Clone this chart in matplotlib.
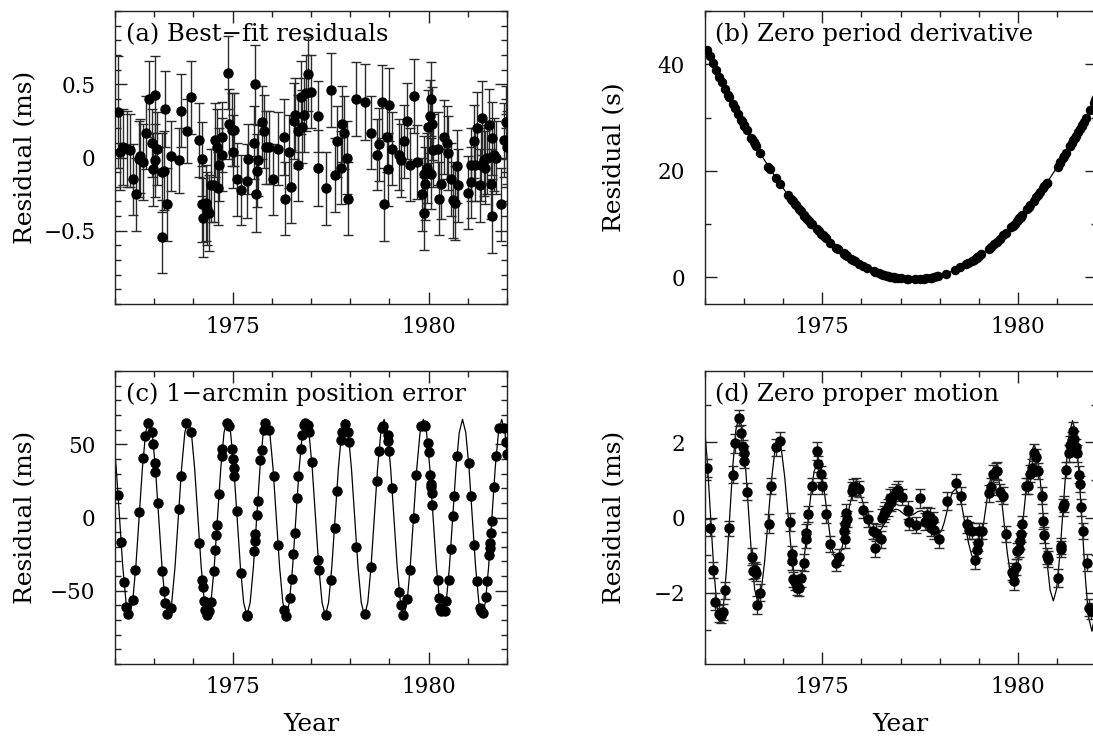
import numpy as np
import matplotlib
matplotlib.use("Agg")
import matplotlib.pyplot as plt
from matplotlib.ticker import MultipleLocator, FixedLocator, FixedFormatter

plt.rcParams['font.family'] = ['DejaVu Serif']

# ---------------- data ----------------
year_ticks = [1975, 1980]
year_labels = ["1975", "1980"]

# TOA epochs (years) shared by panels (a) and (b)
toa_year = [
    1972.07, 1972.14, 1972.21, 1972.30, 1972.38, 1972.45, 1972.53, 1972.61, 1972.63, 1972.72, 1972.78, 1972.86, 1972.94, 1972.96,
    1973.01, 1973.02, 1973.08, 1973.19, 1973.21, 1973.25, 1973.28, 1973.32, 1973.42, 1973.63, 1973.68, 1973.83, 1973.93,
    1974.14, 1974.21, 1974.23, 1974.25, 1974.31, 1974.34, 1974.41, 1974.45, 1974.53, 1974.55, 1974.59, 1974.62, 1974.66, 1974.72, 1974.74, 1974.87, 1974.91, 1974.98,
    1975.02, 1975.04, 1975.10, 1975.21, 1975.36, 1975.40, 1975.55, 1975.57, 1975.60, 1975.61, 1975.64, 1975.74, 1975.80, 1975.85, 1975.94,
    1976.04, 1976.15, 1976.32, 1976.34, 1976.45, 1976.49, 1976.56, 1976.59, 1976.66, 1976.68, 1976.74, 1976.78, 1976.83, 1976.87, 1976.93,
    1977.00, 1977.17, 1977.19, 1977.38, 1977.50, 1977.60, 1977.66, 1977.77, 1977.79, 1977.85, 1977.93, 1977.95,
    1978.15, 1978.39, 1978.53, 1978.68, 1978.73, 1978.82, 1978.87, 1978.94, 1978.96,
    1979.00, 1979.06, 1979.25, 1979.30, 1979.38, 1979.46, 1979.53, 1979.62, 1979.70, 1979.82, 1979.87, 1979.89, 1979.91, 1979.97, 1979.99,
    1980.03, 1980.05, 1980.07, 1980.08, 1980.10, 1980.23, 1980.27, 1980.31, 1980.40, 1980.46, 1980.50, 1980.57, 1980.63, 1980.67, 1980.73, 1980.74,
    1981.01, 1981.07, 1981.08, 1981.15, 1981.18, 1981.23, 1981.32, 1981.33, 1981.37, 1981.41, 1981.44, 1981.48, 1981.53, 1981.58, 1981.62, 1981.63, 1981.67, 1981.73, 1981.84, 1981.93, 1981.97, 1981.99,
]

# (a) best-fit residuals (ms) and uncertainties (ms)
resid_a = [
    0.31, 0.04, 0.07, 0.06, 0.05, -0.15, -0.25, -0.01, 0.01, -0.03, 0.17, 0.40, 0.10, -0.08,
    -0.02, 0.43, 0.06, -0.10, -0.54, -0.09, 0.33, -0.32, 0.01, -0.02, 0.32, 0.18, 0.41,
    0.12, -0.32, -0.01, -0.41, -0.31, -0.35, -0.38, -0.19, -0.19, 0.12, 0.07, -0.21, -0.05, 0.14, 0.02, 0.58, 0.23, 0.19,
    0.04, 0.19, -0.15, -0.22, -0.16, -0.01, 0.10, 0.50, -0.25, -0.09, -0.02, 0.24, 0.18, 0.07, 0.07,
    -0.15, 0.06, 0.14, -0.28, 0.04, -0.20, 0.25, 0.29, -0.05, 0.18, 0.41, 0.21, 0.29, 0.44, 0.57,
    0.45, -0.07, 0.28, -0.21, 0.46, -0.12, 0.11, -0.07, 0.23, 0.17, 0.00, -0.28,
    0.40, 0.38, 0.17, 0.02, 0.09, 0.38, -0.32, 0.14, -0.08,
    0.36, 0.06, 0.02, -0.02, 0.11, 0.25, -0.05, 0.42, -0.03, -0.25, -0.11, -0.38, -0.18, -0.07, 0.21,
    0.28, -0.11, 0.40, 0.23, 0.05, 0.06, -0.28, -0.18, 0.14, 0.10, 0.03, -0.15, -0.29, -0.31, -0.06, -0.19,
    -0.24, -0.05, -0.17, 0.11, -0.05, 0.20, -0.19, -0.05, 0.27, -0.02, -0.07, 0.00, 0.22, -0.18, 0.13, -0.40, 0.02, 0.00, -0.32, 0.12, 0.24, 0.07,
]
err_a = [
    0.38, 0.26, 0.26, 0.26, 0.25, 0.24, 0.25, 0.26, 0.25, 0.26, 0.25, 0.26, 0.23, 0.25,
    0.25, 0.26, 0.25, 0.27, 0.25, 0.27, 0.26, 0.25, 0.24, 0.22, 0.25, 0.22, 0.25,
    0.25, 0.26, 0.25, 0.27, 0.26, 0.25, 0.26, 0.25, 0.25, 0.25, 0.26, 0.25, 0.25, 0.24, 0.25, 0.25, 0.24, 0.25,
    0.25, 0.25, 0.25, 0.24, 0.25, 0.24, 0.25, 0.27, 0.26, 0.25, 0.24, 0.25, 0.25, 0.25, 0.25,
    0.24, 0.25, 0.26, 0.25, 0.25, 0.25, 0.26, 0.25, 0.25, 0.25, 0.25, 0.25, 0.25, 0.26, 0.25,
    0.25, 0.26, 0.24, 0.25, 0.25, 0.25, 0.24, 0.25, 0.26, 0.25, 0.25, 0.25,
    0.25, 0.26, 0.25, 0.24, 0.25, 0.25, 0.25, 0.24, 0.25,
    0.25, 0.25, 0.24, 0.25, 0.25, 0.26, 0.25, 0.25, 0.25, 0.25, 0.26, 0.25, 0.25, 0.24, 0.25,
    0.25, 0.24, 0.25, 0.25, 0.25, 0.25, 0.25, 0.24, 0.25, 0.25, 0.25, 0.25, 0.26, 0.25, 0.25, 0.25,
    0.25, 0.25, 0.24, 0.25, 0.25, 0.25, 0.25, 0.25, 0.25, 0.24, 0.25, 0.25, 0.25, 0.24, 0.25, 0.25, 0.25, 0.25, 0.25, 0.25, 0.25, 0.25,
]

# (b) residuals without period derivative (s), same epochs
resid_b = [
    42.6, 41.5, 40.3, 38.9, 37.7, 36.6, 35.4, 34.2, 33.9, 32.6, 31.8, 30.6, 29.5, 29.3,
    28.6, 28.4, 27.6, 26.2, 26.0, 25.4, 25.1, 24.6, 23.3, 20.8, 20.3, 18.6, 17.5,
    15.4, 14.7, 14.5, 14.3, 13.7, 13.5, 12.8, 12.4, 11.7, 11.6, 11.2, 11.0, 10.6, 10.1, 10.0, 9.0, 8.7, 8.1,
    7.9, 7.7, 7.3, 6.5, 5.6, 5.4, 4.5, 4.4, 4.2, 4.2, 4.0, 3.5, 3.2, 3.0, 2.6,
    2.2, 1.7, 1.2, 1.1, 0.8, 0.7, 0.5, 0.4, 0.3, 0.2, 0.1, 0.1, 0.0, -0.1, -0.2,
    -0.2, -0.4, -0.4, -0.4, -0.35, -0.3, -0.2, -0.1, -0.05, 0.0, 0.2, 0.2,
    0.7, 1.4, 1.9, 2.5, 2.7, 3.1, 3.3, 3.7, 3.8,
    4.0, 4.3, 5.4, 5.7, 6.2, 6.7, 7.2, 7.9, 8.4, 9.4, 9.7, 9.9, 10.1, 10.6, 10.7,
    11.1, 11.2, 11.4, 11.5, 11.7, 12.8, 13.2, 13.5, 14.4, 15.0, 15.4, 16.1, 16.7, 17.1, 17.7, 17.8,
    20.8, 21.5, 21.7, 22.5, 22.8, 23.4, 24.6, 24.7, 25.2, 25.7, 26.1, 26.6, 27.2, 27.9, 28.4, 28.6, 29.1, 29.9, 31.5, 32.8, 33.3, 33.6,
]
model_b_year = np.arange(1972.0, 1982.01, 0.25)
model_b = [
    43.75, 39.70, 35.84, 32.18, 28.71, 25.44, 22.36, 19.48, 16.79, 14.30, 12.01, 9.90, 8.00, 6.28, 4.77, 3.45,
    2.32, 1.39, 0.65, 0.11, -0.24, -0.39, -0.35, -0.11, 0.32, 0.95, 1.77, 2.79, 4.00, 5.41, 7.01, 8.81,
    10.80, 12.99, 15.38, 17.95, 20.73, 23.69, 26.86, 30.21, 33.77,
]

# (c) residuals with 1-arcmin position error (ms)
year_c = [
    1972.07, 1972.15, 1972.22, 1972.29, 1972.34, 1972.45, 1972.52, 1972.62, 1972.71, 1972.77, 1972.84, 1972.94, 1972.98, 1973.01, 1973.03,
    1973.09, 1973.20, 1973.24, 1973.28, 1973.33, 1973.42, 1973.62, 1973.68, 1973.82, 1973.94,
    1974.15, 1974.22, 1974.24, 1974.27, 1974.30, 1974.35, 1974.41, 1974.45, 1974.52, 1974.56, 1974.58, 1974.60, 1974.65, 1974.72, 1974.73, 1974.85, 1974.92, 1974.99, 1975.01, 1975.03, 1975.04,
    1975.10, 1975.21, 1975.36, 1975.38, 1975.55, 1975.57, 1975.58, 1975.61, 1975.64, 1975.71, 1975.74, 1975.79, 1975.82, 1975.94, 1976.05,
    1976.16, 1976.31, 1976.36, 1976.46, 1976.51, 1976.55, 1976.59, 1976.65, 1976.68, 1976.74, 1976.77, 1976.81, 1976.84, 1976.92, 1976.95, 1977.02, 1977.19,
    1977.20, 1977.37, 1977.51, 1977.60, 1977.66, 1977.76, 1977.78, 1977.86, 1977.95, 1977.98, 1978.16, 1978.37,
    1978.53, 1978.68, 1978.73, 1978.80, 1978.83, 1978.96, 1978.97, 1979.00, 1979.07, 1979.25, 1979.29, 1979.35, 1979.45, 1979.52,
    1979.62, 1979.69, 1979.81, 1979.87, 1979.92, 1979.98, 1980.00, 1980.04, 1980.06, 1980.07, 1980.08, 1980.09, 1980.23, 1980.27, 1980.30, 1980.32, 1980.41, 1980.45, 1980.51, 1980.56, 1980.62, 1980.65,
    1980.72, 1981.02, 1981.08, 1981.16, 1981.23, 1981.30, 1981.34, 1981.39, 1981.47, 1981.50, 1981.55, 1981.56, 1981.57, 1981.59, 1981.61, 1981.67, 1981.72, 1981.80, 1981.93, 1981.97, 1982.00,
]
resid_c = [
    15.5, -16.8, -44.0, -61.0, -66.0, -56.0, -36.0, 3.6, 40.5, 55.7, 64.8, 58.6, 50.2, 37.5, 30.9,
    9.8, -36.8, -50.0, -58.4, -66.0, -61.8, 5.7, 28.0, 64.3, 58.6,
    -17.5, -42.5, -47.5, -57.3, -63.0, -66.8, -64.0, -57.7, -36.8, -22.0, -11.8, -5.0, 16.0, 42.0, 46.8, 64.8, 62.7, 46.6, 40.0, 34.0, 28.0,
    4.1, -38.0, -67.5, -66.4, -23.0, -15.7, -11.0, 1.8, 11.0, 39.3, 46.0, 60.0, 64.3, 60.0, 28.0,
    -18.6, -63.0, -67.5, -55.0, -41.8, -25.0, -10.7, 13.2, 28.0, 46.8, 56.4, 63.2, 64.8, 63.2, 58.6, 37.7, -29.3,
    -35.7, -66.4, -42.5, -7.3, 18.4, 53.0, 58.2, 63.6, 58.2, 51.4, -20.2, -66.0,
    -34.0, 25.2, 45.5, 61.4, 62.7, 56.4, 52.3, 45.5, 20.0, -51.0, -60.0, -66.4, -55.7, -36.0,
    -0.5, 29.0, 62.7, 63.2, 62.7, 50.7, 44.5, 29.0, 22.7, 20.5, 16.6, 8.6, -43.0, -55.0, -62.0, -64.0, -63.6, -57.3, -42.5, -21.6, 0.7, 14.8,
    42.0, 37.0, 14.8, -18.6, -43.6, -61.8, -64.0, -65.2, -54.5, -43.6, -25.7, -20.8, -17.4, -10.6, -2.7, 21.0, 41.8, 61.2, 61.2, 51.5, 43.6,
]
model_c_year = np.arange(1971.865, 1982.05, 1.0 / 12.0)
model_c = [
    67, 58, 33.5, 0, -33.5, -58, -67, -58, -33.5, 0, 33.5, 58,
    67, 58, 33.5, 0, -33.5, -58, -67, -58, -33.5, 0, 33.5, 58,
    67, 58, 33.5, 0, -33.5, -58, -67, -58, -33.5, 0, 33.5, 58,
    67, 58, 33.5, 0, -33.5, -58, -67, -58, -33.5, 0, 33.5, 58,
    67, 58, 33.5, 0, -33.5, -58, -67, -58, -33.5, 0, 33.5, 58,
    67, 58, 33.5, 0, -33.5, -58, -67, -58, -33.5, 0, 33.5, 58,
    67, 58, 33.5, 0, -33.5, -58, -67, -58, -33.5, 0, 33.5, 58,
    67, 58, 33.5, 0, -33.5, -58, -67.5, -58.5, -33.5, 0, 33.5, 58,
    67, 58, 33.5, 0, -33.5, -58, -67, -58, -33.5, 0, 33.5, 58,
    67, 58, 33.5, 0, -33.5, -58, -67, -58, -33.5, 0, 33.5, 58,
    67, 58, 33.5,
]

# (d) residuals with zero proper motion (ms)
year_d = [
    1972.06, 1972.15, 1972.22, 1972.28, 1972.36, 1972.41, 1972.47, 1972.52, 1972.62, 1972.73, 1972.79, 1972.88, 1972.94, 1972.97, 1973.00, 1973.01, 1973.08,
    1973.21, 1973.24, 1973.28, 1973.31, 1973.34, 1973.42, 1973.65, 1973.70, 1973.83, 1973.93,
    1974.17, 1974.23, 1974.24, 1974.27, 1974.32, 1974.36, 1974.41, 1974.45, 1974.53, 1974.58, 1974.60, 1974.64, 1974.73, 1974.87, 1974.90, 1974.98, 1975.01, 1975.11, 1975.21, 1975.36, 1975.42, 1975.55,
    1975.58, 1975.59, 1975.60, 1975.64, 1975.75, 1975.79, 1975.86, 1975.93, 1976.04, 1976.16, 1976.30, 1976.36, 1976.38, 1976.49, 1976.53, 1976.57, 1976.61, 1976.67, 1976.72,
    1976.77, 1976.82, 1976.89, 1976.94, 1977.03, 1977.20, 1977.21, 1977.39, 1977.51, 1977.63, 1977.67, 1977.74, 1977.77, 1977.82, 1977.86, 1977.97, 1978.18, 1978.41, 1978.54, 1978.69, 1978.76, 1978.82, 1978.89,
    1978.94, 1978.97, 1979.01, 1979.07, 1979.26, 1979.30, 1979.37, 1979.44, 1979.47, 1979.54, 1979.62, 1979.69, 1979.84, 1979.88, 1979.90, 1979.94, 1979.98, 1980.02, 1980.05, 1980.07, 1980.09, 1980.20,
    1980.26, 1980.30, 1980.35, 1980.41, 1980.45, 1980.51, 1980.60, 1980.64, 1980.67, 1980.73, 1980.75, 1981.03, 1981.09, 1981.10, 1981.15, 1981.17, 1981.22, 1981.31, 1981.32,
    1981.37, 1981.39, 1981.43, 1981.47, 1981.51, 1981.56, 1981.58, 1981.60, 1981.66, 1981.75, 1981.82, 1981.86,
]
resid_d = [
    1.32, -0.27, -1.40, -2.24, -2.56, -2.62, -2.52, -1.94, -0.28, 1.14, 1.97, 2.65, 2.24, 1.87, 1.71, 1.51, 0.69,
    -1.04, -1.42, -1.40, -1.47, -2.34, -2.00, -0.16, 0.84, 1.87, 2.04,
    -0.11, -0.98, -1.17, -1.64, -1.73, -1.87, -1.89, -1.62, -1.20, -0.58, -0.40, 0.09, 0.84, 1.78, 1.42, 1.16, 0.84, 0.09, -0.71, -1.20, -1.05, -0.36,
    -0.18, -0.58, 0.13, -0.04, 0.71, 0.80, 0.82, 0.76, 0.20, -0.04, -0.36, -0.80, -0.40, -0.58, 0.00, 0.09, 0.18, 0.27, 0.53,
    0.40, 0.58, 0.67, 0.72, 0.55, 0.20, -0.12, -0.20, 0.51, -0.11, 0.06, 0.02, -0.27, -0.07, -0.34, -0.58, 0.44, 0.91, 0.58, -0.18, -0.34, -0.36, -1.14,
    -0.87, -0.67, -0.36, -0.36, 0.64, 0.82, 1.17, 1.24, 1.23, 0.67, 0.58, -0.44, -1.44, -1.51, -1.69, -1.32, -0.89, -0.84, -0.62, -0.43, -0.18, 0.84,
    0.84, 1.17, 1.33, 1.73, 1.60, 1.24, 0.58, -0.09, -0.46, -1.02, -1.11, -1.60, -0.84, -0.76, 0.27, 0.36, 1.26, 1.71, 1.94,
    2.06, 2.31, 2.09, 1.87, 1.71, 1.14, 0.89, 0.27, -0.36, -1.20, -2.40, -2.49,
]
err_d = [
    0.24, 0.22, 0.22, 0.22, 0.22, 0.20, 0.22, 0.22, 0.20, 0.22, 0.24, 0.22, 0.22, 0.20, 0.20, 0.20, 0.22,
    0.22, 0.22, 0.22, 0.22, 0.24, 0.22, 0.24, 0.22, 0.22, 0.24,
    0.24, 0.22, 0.22, 0.20, 0.20, 0.20, 0.20, 0.22, 0.22, 0.22, 0.22, 0.22, 0.22, 0.24, 0.22, 0.22, 0.22, 0.24, 0.22, 0.22, 0.22, 0.22,
    0.22, 0.22, 0.22, 0.22, 0.24, 0.22, 0.22, 0.22, 0.22, 0.22, 0.22, 0.24, 0.22, 0.22, 0.22, 0.22, 0.22, 0.22, 0.22,
    0.22, 0.22, 0.22, 0.24, 0.22, 0.25, 0.22, 0.22, 0.25, 0.22, 0.22, 0.24, 0.22, 0.22, 0.22, 0.24, 0.25, 0.25, 0.22, 0.22, 0.22, 0.22, 0.24,
    0.22, 0.22, 0.22, 0.22, 0.22, 0.22, 0.22, 0.22, 0.24, 0.22, 0.22, 0.22, 0.22, 0.22, 0.24, 0.22, 0.22, 0.22, 0.22, 0.22, 0.22, 0.22,
    0.22, 0.22, 0.22, 0.22, 0.22, 0.22, 0.22, 0.22, 0.22, 0.22, 0.22, 0.24, 0.22, 0.22, 0.22, 0.22, 0.22, 0.22, 0.22,
    0.22, 0.24, 0.22, 0.22, 0.22, 0.22, 0.22, 0.22, 0.22, 0.22, 0.22, 0.22,
]
model_d_year = [
    1971.900, 1971.983, 1972.067, 1972.150, 1972.233, 1972.317,
    1972.400, 1972.480, 1972.560, 1972.640, 1972.720, 1972.800,
    1972.880, 1972.960, 1973.040, 1973.120, 1973.200, 1973.280,
    1973.360, 1973.447, 1973.533, 1973.620, 1973.707, 1973.793,
    1973.880, 1973.963, 1974.047, 1974.130, 1974.213, 1974.297,
    1974.380, 1974.463, 1974.547, 1974.630, 1974.713, 1974.797,
    1974.880, 1974.962, 1975.043, 1975.125, 1975.207, 1975.288,
    1975.370, 1975.452, 1975.533, 1975.615, 1975.697, 1975.778,
    1975.860, 1975.942, 1976.023, 1976.105, 1976.187, 1976.268,
    1976.350, 1976.438, 1976.527, 1976.615, 1976.703, 1976.792,
    1976.880, 1976.933, 1976.987, 1977.040, 1977.093, 1977.147,
    1977.200, 1977.257, 1977.313, 1977.370, 1977.427, 1977.483,
    1977.540, 1977.612, 1977.683, 1977.755, 1977.827, 1977.898,
    1977.970, 1978.042, 1978.113, 1978.185, 1978.257, 1978.328,
    1978.400, 1978.483, 1978.567, 1978.650, 1978.733, 1978.817,
    1978.900, 1978.985, 1979.070, 1979.155, 1979.240, 1979.325,
    1979.410, 1979.488, 1979.567, 1979.645, 1979.723, 1979.802,
    1979.880, 1979.968, 1980.057, 1980.145, 1980.233, 1980.322,
    1980.410, 1980.492, 1980.573, 1980.655, 1980.737, 1980.818,
    1980.900, 1980.982, 1981.063, 1981.145, 1981.227, 1981.308,
    1981.390, 1981.472, 1981.553, 1981.635, 1981.717, 1981.798,
    1981.880, 1981.963, 1982.047,
]
model_d = [
    3.00, 2.61, 1.56, 0.13, -1.31, -2.36,
    -2.75, -2.38, -1.39, -0.03, 1.34, 2.33,
    2.70, 2.37, 1.46, 0.23, -1.01, -1.92,
    -2.25, -1.96, -1.18, -0.10, 0.98, 1.76,
    2.05, 1.79, 1.07, 0.09, -0.89, -1.61,
    -1.87, -1.65, -1.04, -0.21, 0.62, 1.23,
    1.45, 1.27, 0.80, 0.14, -0.52, -0.99,
    -1.17, -1.04, -0.69, -0.20, 0.29, 0.64,
    0.77, 0.69, 0.47, 0.16, -0.15, -0.37,
    -0.45, -0.41, -0.28, -0.12, 0.05, 0.18,
    0.22, 0.21, 0.18, 0.13, 0.09, 0.05,
    0.04, 0.05, 0.08, 0.11, 0.15, 0.17,
    0.18, 0.14, 0.03, -0.13, -0.29, -0.40,
    -0.44, -0.36, -0.14, 0.16, 0.46, 0.68,
    0.76, 0.63, 0.29, -0.19, -0.67, -1.01,
    -1.14, -0.97, -0.52, 0.11, 0.73, 1.18,
    1.35, 1.15, 0.59, -0.17, -0.93, -1.49,
    -1.69, -1.45, -0.78, 0.13, 1.03, 1.70,
    1.94, 1.66, 0.90, -0.14, -1.18, -1.94,
    -2.22, -1.90, -1.02, 0.18, 1.38, 2.26,
    2.58, 2.21, 1.18, -0.22, -1.62, -2.65,
    -3.02, -2.61, -1.49,
]

titles = ["(a) Best\u2212fit residuals", "(b) Zero period derivative",
          "(c) 1\u2212arcmin position error", "(d) Zero proper motion"]
ylabels = ["Residual (ms)", "Residual (s)", "Residual (ms)", "Residual (ms)"]

# ---------------- figure ----------------
W, H = 1093, 738
fig = plt.figure(figsize=(W / 100, H / 100), dpi=100)


def add_axes(left, top, width=392, height=293):
    return fig.add_axes([left / W, 1 - (top + height) / H, width / W, height / H])


ax_a = add_axes(115, 11)
ax_b = add_axes(704.5, 11)
ax_c = add_axes(115, 371)
ax_d = add_axes(704.5, 371)

TICK_FS = 15.5
LABEL_FS = 18
TITLE_FS = 17.5


def style(ax, ylim, ymajor, ylabs, yminor, ylabel, title, show_xlabel):
    ax.set_xlim(1972, 1982)
    ax.set_ylim(*ylim)
    ax.xaxis.set_major_locator(FixedLocator(year_ticks))
    ax.xaxis.set_major_formatter(FixedFormatter(year_labels))
    ax.xaxis.set_minor_locator(MultipleLocator(1))
    ax.yaxis.set_major_locator(FixedLocator(ymajor))
    ax.yaxis.set_major_formatter(FixedFormatter(ylabs))
    ax.yaxis.set_minor_locator(MultipleLocator(yminor))
    ax.tick_params(which='both', direction='in', top=True, right=True,
                   width=1.0, color='#222222', labelsize=TICK_FS)
    ax.tick_params(which='major', length=8.5)
    ax.tick_params(which='minor', length=4.3)
    ax.tick_params(axis='x', which='both', pad=8.5)
    ax.tick_params(axis='y', which='both', pad=14)
    for sp in ax.spines.values():
        sp.set_linewidth(1.0)
        sp.set_color('#222222')
    ax.set_ylabel(ylabel, fontsize=LABEL_FS)
    ax.yaxis.set_label_coords(-0.229, 0.5)
    ax.yaxis.label.set_va('center')
    if show_xlabel:
        ax.set_xlabel("Year", fontsize=LABEL_FS)
        ax.xaxis.set_label_coords(0.5, -0.168)
    ax.text(0.027, 0.896, title, transform=ax.transAxes, fontsize=TITLE_FS,
            ha='left', va='baseline')


style(ax_a, (-1.0, 1.0), [-0.5, 0, 0.5], ["\u22120.5", "0", "0.5"], 0.1,
      ylabels[0], titles[0], False)
style(ax_b, (-5, 50), [0, 20, 40], ["0", "20", "40"], 10,
      ylabels[1], titles[1], False)
style(ax_c, (-100, 100), [-50, 0, 50], ["\u221250", "0", "50"], 10,
      ylabels[2], titles[2], True)
style(ax_d, (-3.9, 3.9), [-2, 0, 2], ["\u22122", "0", "2"], 1,
      ylabels[3], titles[3], True)

MS = 6.5
ERR_KW = dict(fmt='o', ms=MS, mfc='k', mec='k', ecolor='#2a2a2a',
              elinewidth=1.0, capsize=3.5, capthick=1.0, zorder=3)

# (a)
ax_a.errorbar(toa_year, resid_a, yerr=err_a, **ERR_KW)
# (b)
ax_b.plot(model_b_year[:len(model_b)], model_b, color='k', lw=0.9, zorder=2)
ax_b.plot(toa_year, resid_b, 'o', ms=5.8, color='k', zorder=3)
# (c)
ax_c.plot(model_c_year[:len(model_c)], model_c, color='k', lw=0.9, zorder=2)
ax_c.plot(year_c, resid_c, 'o', ms=MS, color='k', zorder=3)
# (d)
ax_d.plot(model_d_year, model_d, color='k', lw=0.9, zorder=2)
ax_d.errorbar(year_d, resid_d, yerr=err_d, **ERR_KW)

fig.savefig("out.png", dpi=100)
